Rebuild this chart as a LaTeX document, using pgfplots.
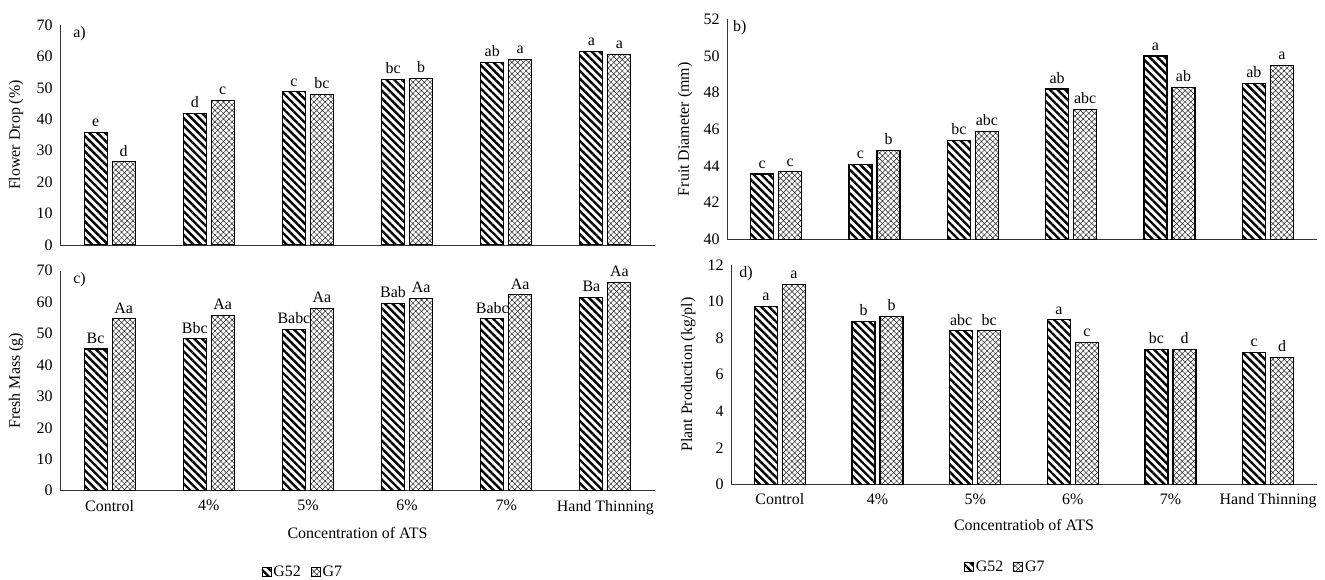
\documentclass[border=0pt]{standalone}
\usepackage{fontspec}
\setmainfont{Liberation Serif}
\usepackage{pgfplots}
\pgfplotsset{compat=1.18}
\usetikzlibrary{patterns.meta}
\newcommand\fs{\fontsize{16}{18}\selectfont}
\newcommand\fl{\fontsize{16}{18}\selectfont}
\pgfplotsset{
  panel/.style={
    scale only axis, anchor=south west,
    height=220bp,
    axis lines*=left,
    axis line style={black!80, line width=0.9bp},
    major tick length=0pt,
    ybar=5bp, bar width=23bp,
    xmin=-0.5, xmax=5.5, xtick={0,...,5},
    font=\fs,
    /pgf/number format/assume math mode=true,
    yticklabel style={font=\fs, xshift=-4bp},
    xticklabel style={font=\fs, yshift=-6bp},
    ylabel style={font=\fl, rotate=0, anchor=center},
    xlabel style={font=\fl, anchor=center},
    nodes near coords, point meta=explicit symbolic,
    nodes near coords style={font=\fs, inner sep=2bp, yshift=3bp},
    clip=true,
    legend image code/.code={\draw[#1, line width=0.8bp] (0bp,-4.5bp) rectangle (9bp,4.5bp);},
    legend style={draw=none, fill=none, font=\fs, legend columns=2,
       /tikz/every even column/.append style={column sep=8bp}, anchor=center},
  },
  g52/.style={draw=black, line width=1.1bp, pattern={Lines[angle=-45,distance=5.5bp,line width=2.4bp]}, pattern color=black},
  g7/.style={draw=black, line width=1.1bp, pattern={Hatch[angle=45,distance=4bp,line width=0.5bp]}, pattern color=black!85},
}
\begin{document}
\begin{tikzpicture}
\path[use as bounding box] (0bp,0bp) rectangle (1325bp,580bp);
% a)
\begin{axis}[panel, at={(60bp,335bp)}, width=595bp,
  ymin=0, ymax=70, ytick={0,10,...,70}, xticklabels={},
  ylabel={Flower Drop (\%)}, ylabel style={at={(axis description cs:-0.074,0.5)}}]
\addplot[g52] coordinates {(0,35.8)[e] (1,41.9)[d] (2,48.7)[c] (3,52.7)[bc] (4,58.1)[ab] (5,61.6)[a]};
\addplot[g7] coordinates {(0,26.5)[d] (1,46.0)[c] (2,48.0)[bc] (3,53.0)[b] (4,59.1)[a] (5,60.6)[a]};
\node[anchor=north west, font=\fs, inner sep=0pt] at (axis description cs:0.022,0.995) {a)};
\end{axis}
% b)
\begin{axis}[panel, at={(727bp,340.7bp)}, width=590bp,
  ymin=40, ymax=52, ytick={40,42,...,52}, xticklabels={},
  ylabel={Fruit Diameter (mm)}, ylabel style={at={(axis description cs:-0.071,0.5)}}]
\addplot[g52] coordinates {(0,43.56)[c] (1,44.1)[c] (2,45.4)[bc] (3,48.2)[ab] (4,50.0)[a] (5,48.5)[ab]};
\addplot[g7] coordinates {(0,43.68)[c] (1,44.85)[b] (2,45.88)[abc] (3,47.08)[abc] (4,48.3)[ab] (5,49.48)[a]};
\node[anchor=north west, font=\fs, inner sep=0pt] at (axis description cs:0.01,0.995) {b)};
\end{axis}
% c)
\begin{axis}[panel, at={(60bp,89.3bp)}, width=595bp,
  ymin=0, ymax=70, ytick={0,10,...,70},
  xticklabels={Control,4\%,5\%,6\%,7\%,Hand Thinning},
  ylabel={Fresh Mass  (g)}, ylabel style={at={(axis description cs:-0.074,0.5)}},
  xlabel={Concentration of ATS}, xlabel style={at={(axis description cs:0.5,-0.193)}},
  legend style={at={(axis description cs:0.408,-0.368)}}]
\addplot[g52] coordinates {(0,45.1)[Bc] (1,48.3)[Bbc] (2,51.4)[Babc] (3,59.5)[Bab] (4,54.7)[Babc] (5,61.6)[Ba]};
\addplot[g7] coordinates {(0,54.7)[Aa] (1,55.8)[Aa] (2,58.0)[Aa] (3,61.2)[Aa] (4,62.3)[Aa] (5,66.2)[Aa]};
\addlegendentry{G52}
\addlegendentry{G7}
\node[anchor=north west, font=\fs, inner sep=0pt] at (axis description cs:0.022,0.995) {c)};
\end{axis}
% d)
\begin{axis}[panel, at={(731bp,95.7bp)}, width=586bp, height=219.3bp,
  ymin=0, ymax=12, ytick={0,2,...,12},
  xticklabels={Control,4\%,5\%,6\%,7\%,Hand Thinning},
  ylabel={Plant Production (kg/pl)}, ylabel style={at={(axis description cs:-0.073,0.5)}},
  xlabel={Concentratiob of ATS}, xlabel style={at={(axis description cs:0.5,-0.187)}},
  legend style={at={(axis description cs:0.468,-0.378)}}]
\addplot[g52] coordinates {(0,9.75)[a] (1,8.9)[b] (2,8.4)[abc] (3,9.0)[a] (4,7.4)[bc] (5,7.22)[c]};
\addplot[g7] coordinates {(0,10.94)[a] (1,9.19)[b] (2,8.4)[bc] (3,7.77)[c] (4,7.4)[d] (5,6.96)[d]};
\addlegendentry{G52}
\addlegendentry{G7}
\node[anchor=north west, font=\fs, inner sep=0pt] at (axis description cs:0.014,0.995) {d)};
\end{axis}
\end{tikzpicture}
\end{document}
